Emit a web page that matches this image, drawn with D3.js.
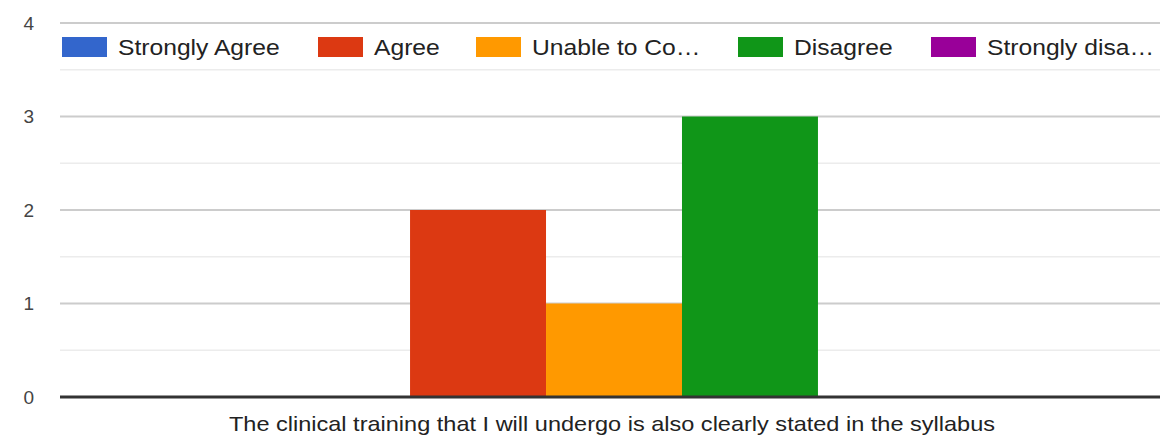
<!DOCTYPE html>
<html><head><meta charset="utf-8">
<script src="https://cdn.jsdelivr.net/npm/d3@7"></script>
<style>body{margin:0;background:#fff;}svg{display:block;font-family:"Liberation Sans",Arial,sans-serif;}</style>
</head><body>
<svg id="c" width="1167" height="440"></svg>
<script>
const category = "The clinical training that I will undergo is also clearly stated in the syllabus";
const seriesNames = ["Strongly Agree","Agree","Unable to Co\u2026","Disagree","Strongly disa\u2026"];
const seriesValues = [0,2,1,3,0];
const seriesColors = ["#3366cc","#dc3912","#ff9900","#109618","#990099"];
const yTicks = [0,1,2,3,4];
const yMinor = [0.5,1.5,2.5,3.5];

const svg = d3.select("#c");
const m = {l:60, r:7, t:23, b:43};
const W = 1167, H = 440;
const stretch = 1.12;
const x0 = d3.scaleBand().domain([category]).range([m.l+4, W-m.r+4]).paddingInner(0).paddingOuter(0.309);
const x1 = d3.scaleBand().domain(seriesNames).range([0, x0.bandwidth()]);
const y = d3.scaleLinear().domain([0,4]).range([H-m.b, m.t]);

function stretchText(t){
  const w = t.node().getComputedTextLength();
  t.attr("textLength", w*stretch).attr("lengthAdjust","spacingAndGlyphs");
  return w*stretch;
}

// minor gridlines
svg.append("g").selectAll("line").data(yMinor).join("line")
  .attr("x1", m.l).attr("x2", W-m.r).attr("y1", d=>y(d)).attr("y2", d=>y(d))
  .attr("stroke","#ececec").attr("stroke-width",1.5);
// major gridlines
svg.append("g").selectAll("line").data(yTicks.filter(d=>d>0)).join("line")
  .attr("x1", m.l).attr("x2", W-m.r).attr("y1", d=>y(d)).attr("y2", d=>y(d))
  .attr("stroke","#cccccc").attr("stroke-width",2);

// y tick labels
svg.append("g").selectAll("text").data(yTicks).join("text")
  .attr("x", 34).attr("y", d=>y(d)).attr("dy","0.35em").attr("text-anchor","end")
  .attr("font-size",19).attr("fill","#444").text(d=>d);

// bars
svg.append("g").selectAll("rect").data(seriesNames.map((s,i)=>({s,v:seriesValues[i],c:seriesColors[i]}))).join("rect")
  .attr("x", d=>x0(category)+x1(d.s)).attr("width", x1.bandwidth())
  .attr("y", d=>y(d.v)).attr("height", d=>y(0)-y(d.v)).attr("fill", d=>d.c);

// baseline
svg.append("line").attr("x1", m.l).attr("x2", W-m.r).attr("y1", y(0)).attr("y2", y(0))
  .attr("stroke","#333").attr("stroke-width",3);

// x label
const xl = svg.append("text").attr("x", 612).attr("y", 424).attr("dy","0.35em")
  .attr("text-anchor","middle").attr("font-size",21).attr("fill","#222").text(category);
stretchText(xl);

// legend (layout positions of legend items)
const legendX = [62,318,476,738,931];
const lg = svg.append("g");
seriesNames.forEach((s,i)=>{
  const g = lg.append("g").attr("transform",`translate(${legendX[i]},0)`);
  g.append("rect").attr("x",0).attr("y",37).attr("width",45).attr("height",20).attr("fill",seriesColors[i]);
  const t = g.append("text").attr("x",56).attr("y",47).attr("dy","0.35em").attr("font-size",22).attr("fill","#222").text(s);
  stretchText(t);
});
</script>
</body></html>
